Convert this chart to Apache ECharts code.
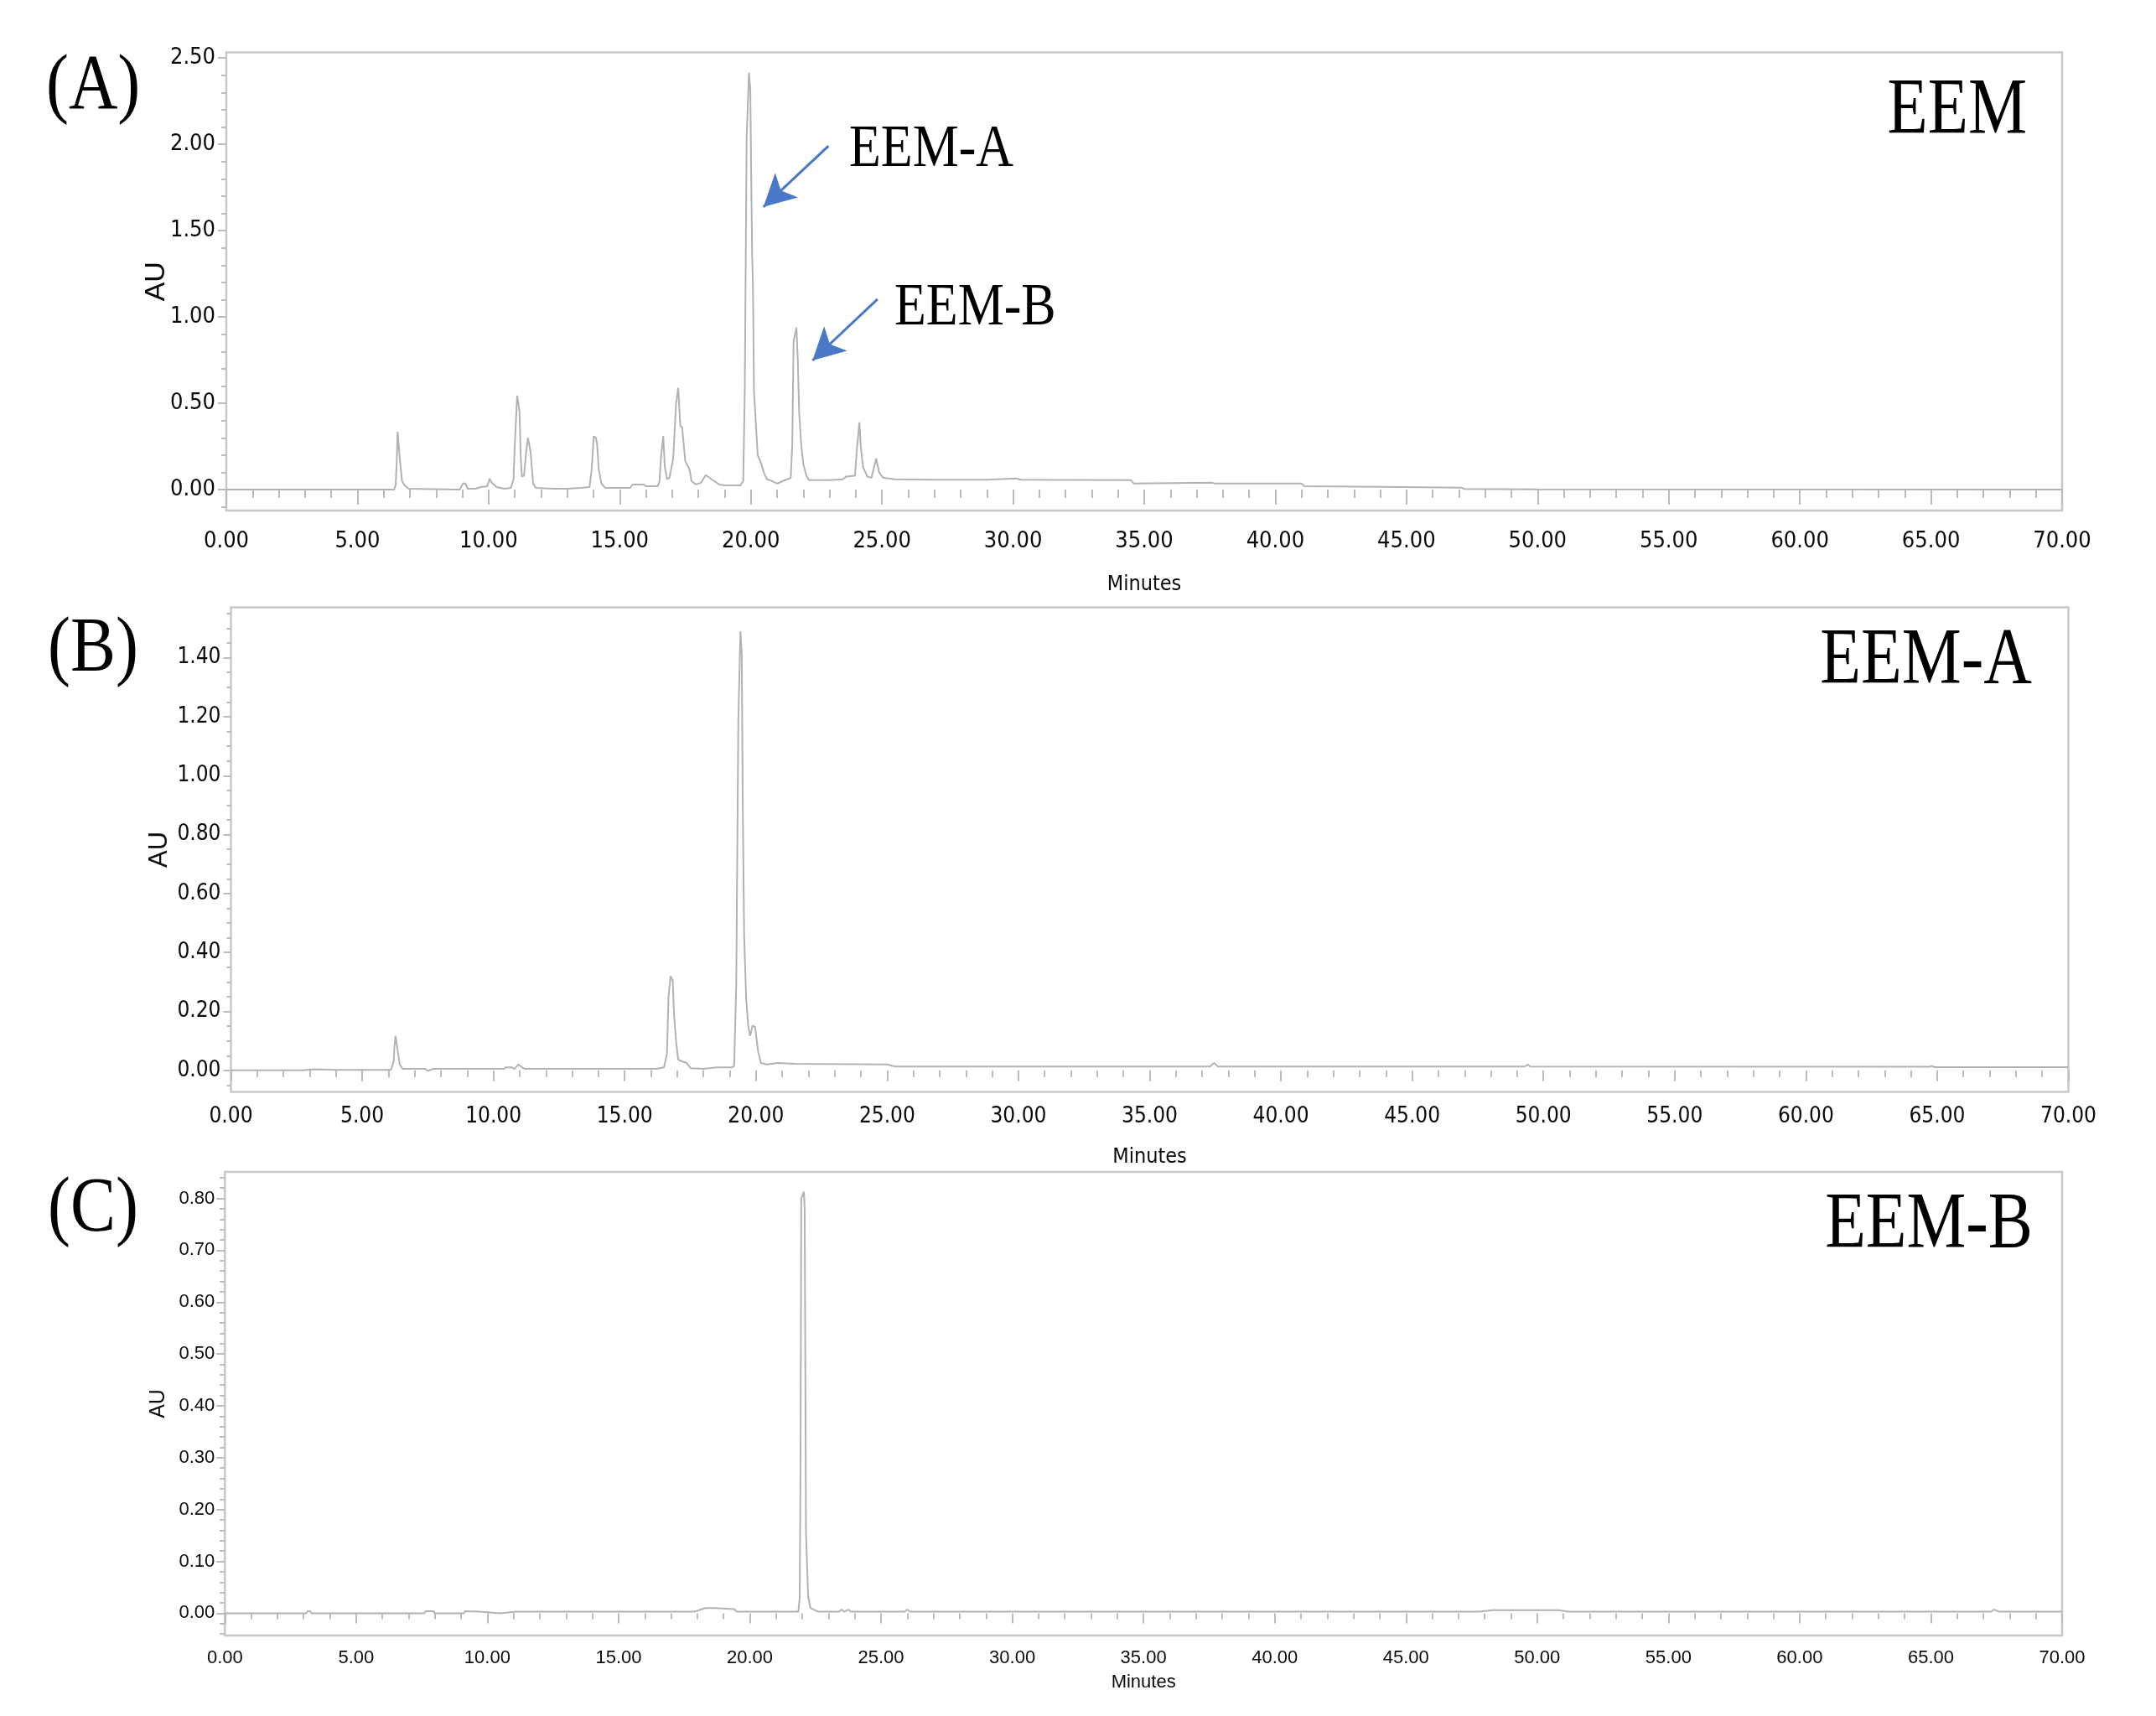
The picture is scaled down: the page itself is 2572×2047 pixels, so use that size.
<!DOCTYPE html>
<html>
<head>
<meta charset="utf-8">
<script src="https://cdn.jsdelivr.net/npm/echarts@6/dist/echarts.min.js"></script>
<style>
html, body { margin: 0; padding: 0; background: #fff; }
#chart { width: 2572px; height: 2047px; }
</style>
</head>
<body>
<div id="chart"></div>
<script>
// [minutes, AU]
var eemTrace = [
	[0, 0], [6.40, 0], [6.46, 0.03], [6.50, 0.17], [6.53, 0.335], [6.59, 0.33], [6.62, 0.17], [6.70, 0.05],
	[6.80, 0.025], [6.95, 0.005], [8.90, 0.0], [9.02, 0.035], [9.12, 0.035], [9.20, 0.005], [9.50, 0.005],
	[9.70, 0.015], [9.95, 0.02], [10.04, 0.065], [10.12, 0.04], [10.30, 0.015], [10.60, 0.005], [10.85, 0.01],
	[10.95, 0.06], [11.00, 0.26], [11.09, 0.545], [11.14, 0.545], [11.18, 0.45], [11.22, 0.21], [11.27, 0.076],
	[11.35, 0.08], [11.42, 0.20], [11.50, 0.30], [11.55, 0.30], [11.60, 0.22], [11.70, 0.035], [11.80, 0.01],
	[12.50, 0.005], [13.00, 0.005], [13.50, 0.01], [13.85, 0.015], [13.93, 0.116], [14.01, 0.31], [14.09, 0.30],
	[14.14, 0.26], [14.20, 0.12], [14.30, 0.035], [14.45, 0.01], [15.40, 0.01], [15.50, 0.03], [15.90, 0.03],
	[16.00, 0.02], [16.45, 0.02], [16.52, 0.05], [16.57, 0.18], [16.66, 0.31], [16.72, 0.13], [16.81, 0.06],
	[16.90, 0.07], [17.04, 0.18], [17.15, 0.50], [17.23, 0.59], [17.31, 0.37], [17.38, 0.36], [17.50, 0.165],
	[17.66, 0.117], [17.74, 0.05], [17.90, 0.03], [18.10, 0.04], [18.28, 0.084], [18.50, 0.06], [18.80, 0.03],
	[19.00, 0.025], [19.60, 0.025], [19.71, 0.05], [19.77, 0.585], [19.84, 2.04], [19.93, 2.414], [19.98, 2.317],
	[20.01, 1.88], [20.05, 1.36], [20.08, 1.184], [20.12, 0.57], [20.19, 0.39], [20.26, 0.20], [20.40, 0.15],
	[20.51, 0.092], [20.62, 0.06], [20.78, 0.052], [21.00, 0.035], [21.30, 0.055], [21.52, 0.068], [21.58, 0.26],
	[21.63, 0.86], [21.74, 0.94], [21.79, 0.75], [21.84, 0.456], [21.92, 0.26], [22.00, 0.15], [22.11, 0.084],
	[22.22, 0.055], [23.00, 0.055], [23.50, 0.06], [23.65, 0.076], [23.97, 0.08], [24.05, 0.245], [24.14, 0.39],
	[24.19, 0.25], [24.28, 0.13], [24.44, 0.076], [24.60, 0.068], [24.78, 0.18], [24.89, 0.10], [25.05, 0.068],
	[25.50, 0.06], [27.00, 0.058], [29.00, 0.057], [30.10, 0.065], [30.30, 0.057], [34.50, 0.055], [34.60, 0.035],
	[37.60, 0.04], [37.70, 0.035], [41.00, 0.035], [41.10, 0.02], [44.00, 0.016], [47.10, 0.011], [47.20, 0.004],
	[50.00, 0.002], [70.00, 0.0]
];

var eemATrace = [
	[0, 0], [2.70, 0], [2.75, 0.004], [3.20, 0.004], [3.25, 0], [4.00, 0.002], [6.10, 0.002], [6.20, 0.03],
	[6.23, 0.08], [6.27, 0.117], [6.32, 0.086], [6.37, 0.056], [6.43, 0.02], [6.54, 0.005], [7.40, 0.005],
	[7.50, -0.002], [7.70, 0.005], [10.40, 0.005], [10.47, 0.01], [10.70, 0.01], [10.80, 0.005], [10.95, 0.02],
	[11.10, 0.01], [11.20, 0.005], [16.20, 0.005], [16.50, 0.01], [16.61, 0.056], [16.67, 0.25], [16.75, 0.32],
	[16.83, 0.305], [16.88, 0.19], [16.96, 0.096], [17.04, 0.036], [17.20, 0.03], [17.36, 0.025], [17.52, 0.007],
	[18.00, 0.005], [18.50, 0.01], [19.10, 0.01], [19.17, 0.015], [19.25, 0.29], [19.33, 1.19], [19.41, 1.49],
	[19.46, 1.41], [19.50, 0.89], [19.55, 0.46], [19.63, 0.24], [19.71, 0.147], [19.78, 0.117], [19.87, 0.152],
	[19.97, 0.147], [20.08, 0.066], [20.19, 0.025], [20.40, 0.02], [20.83, 0.025], [21.50, 0.022], [25.00, 0.02],
	[25.30, 0.013], [37.30, 0.013], [37.45, 0.025], [37.60, 0.013], [49.30, 0.013], [49.40, 0.02], [49.50, 0.013],
	[64.70, 0.012], [64.80, 0.015], [64.90, 0.011], [70.00, 0.011]
];

var eemBTrace = [
	[0, 0], [3.10, 0], [3.15, 0.004], [3.25, 0.004], [3.30, 0], [4.30, 0], [4.35, 0.003], [4.40, 0],
	[7.60, 0], [7.65, 0.004], [7.95, 0.004], [8.00, 0], [9.10, 0], [9.15, 0.004], [9.70, 0.003], [9.75, 0],
	[10.50, 0], [10.55, 0.003], [11.10, 0.003], [11.15, 0], [17.90, 0.003], [18.30, 0.01], [18.70, 0.01],
	[19.40, 0.008], [19.50, 0.003], [21.85, 0.003], [21.90, 0.03], [21.93, 0.267], [21.96, 0.80], [22.06, 0.813],
	[22.09, 0.78], [22.11, 0.54], [22.14, 0.157], [22.22, 0.033], [22.31, 0.01], [22.60, 0.003], [23.40, 0.003],
	[23.50, 0.007], [23.60, 0.003], [23.75, 0.007], [23.85, 0.003], [25.90, 0.003], [26.00, 0.007], [26.10, 0.003],
	[47.80, 0.003], [48.30, 0.006], [50.80, 0.006], [51.20, 0.003], [67.30, 0.003], [67.40, 0.007], [67.60, 0.003],
	[70.00, 0.003]
];

// y tick labels of each panel
var eemYTicks = [0, 0.5, 1.0, 1.5, 2.0, 2.5];
var eemAYTicks = [0, 0.2, 0.4, 0.6, 0.8, 1.0, 1.2, 1.4];
var eemBYTicks = [0, 0.1, 0.2, 0.3, 0.4, 0.5, 0.6, 0.7, 0.8];

// arrows pointing at the two peaks in panel A: [tail, tip]
var arrowEemA = [[22.96, 1.99], [20.48, 1.637]];
var arrowEemB = [[24.83, 1.103], [22.35, 0.748]];

var NARROW = "'Liberation Sans Narrow', 'DejaVu Sans Condensed', sans-serif";
var SANS = "'Liberation Sans', Arial, sans-serif";
var SERIF = "'Liberation Serif', 'Times New Roman', serif";

var panels = [
	{ trace: eemTrace, ticks: eemYTicks, minorStep: 0.1, yMin: -0.121, yMax: 2.532,
	  left: 270, top: 62.5, width: 2190, height: 546.5,
	  labelFont: NARROW, labelSize: 27, xMargin: 23, yMargin: 13, xNameGap: 76, yNameGap: 66,
	  auSize: 34, minSize: 25, xMajor: 18, xMinor: 10, yMajor: 10, yMinor: 6 },
	{ trace: eemATrace, ticks: eemAYTicks, minorStep: 0.05, yMin: -0.073, yMax: 1.571,
	  left: 275.5, top: 724.5, width: 2192, height: 578,
	  labelFont: NARROW, labelSize: 26, xMargin: 17, yMargin: 12, xNameGap: 65, yNameGap: 70,
	  auSize: 31, minSize: 25, xMajor: 13, xMinor: 8, yMajor: 9, yMinor: 5 },
	{ trace: eemBTrace, ticks: eemBYTicks, minorStep: 0.02, yMin: -0.043, yMax: 0.851,
	  left: 268.3, top: 1398, width: 2191.7, height: 553,
	  labelFont: SANS, labelSize: 22, xMargin: 16, yMargin: 12, xNameGap: 45, yNameGap: 67,
	  auSize: 25, minSize: 22, xMajor: 12, xMinor: 7, yMajor: 10, yMinor: 6 }
];

function minorValues(p) {
	var out = [];
	var start = Math.ceil(p.yMin / p.minorStep);
	var end = Math.floor(p.yMax / p.minorStep);
	for (var k = start; k <= end; k++) {
		var v = Math.round(k * p.minorStep * 1e6) / 1e6;
		var isMajor = p.ticks.some(function (t) { return Math.abs(t - v) < 1e-6; });
		if (!isMajor) out.push(v);
	}
	return out;
}

var tickColor = '#bcbcbc';
var frameColor = '#c8c8c8';
var lineColor = '#b2b2b2';
var textColor = '#0a0a0a';

var grids = [], xAxes = [], yAxes = [], series = [];

panels.forEach(function (p, i) {
	grids.push({
		left: p.left, top: p.top, width: p.width, height: p.height,
		show: true, borderColor: frameColor, borderWidth: 2.5, backgroundColor: 'transparent'
	});
	xAxes.push({
		type: 'value', gridIndex: i, min: 0, max: 70, interval: 5,
		axisLine: { show: false },
		axisTick: { show: true, length: p.xMajor, lineStyle: { color: tickColor, width: 2 } },
		minorTick: { show: true, splitNumber: 5, length: p.xMinor, lineStyle: { color: tickColor, width: 2 } },
		splitLine: { show: false },
		axisLabel: {
			margin: p.xMargin, fontFamily: p.labelFont, fontSize: p.labelSize, color: textColor,
			formatter: function (v) { return v.toFixed(2); }
		},
		name: 'Minutes', nameLocation: 'middle', nameGap: p.xNameGap,
		nameTextStyle: { fontFamily: p.labelFont, fontSize: p.minSize, color: textColor }
	});
	yAxes.push({
		type: 'value', gridIndex: i, position: 'left', offset: 0, min: p.yMin, max: p.yMax,
		axisLine: { show: false },
		axisTick: { show: true, length: p.yMajor, customValues: p.ticks, lineStyle: { color: tickColor, width: 2 } },
		splitLine: { show: false },
		axisLabel: {
			customValues: p.ticks, margin: p.yMargin, fontFamily: p.labelFont, fontSize: p.labelSize, color: textColor,
			formatter: function (v) { return v.toFixed(2); }
		},
		name: 'AU', nameLocation: 'middle', nameGap: p.yNameGap, nameRotate: 90, nameMoveOverlap: false,
		nameTextStyle: { fontFamily: SANS, fontSize: p.auSize, color: textColor }
	});
	// second axis on the same side of the grid, only for the minor y ticks
	yAxes.push({
		type: 'value', gridIndex: i, position: 'left', offset: 0, min: p.yMin, max: p.yMax,
		axisLine: { show: false },
		axisTick: { show: true, length: p.yMinor, customValues: minorValues(p), lineStyle: { color: tickColor, width: 2 } },
		axisLabel: { show: false },
		splitLine: { show: false }
	});
	series.push({
		type: 'line', xAxisIndex: i, yAxisIndex: 2 * i, data: p.trace,
		showSymbol: false, symbol: 'none', silent: true,
		lineStyle: { color: lineColor, width: 2 }
	});
});

series[0].markLine = {
	silent: true, animation: false,
	symbol: ['none', 'arrow'], symbolSize: [30, 38],
	lineStyle: { color: '#4a78c9', width: 3, type: 'solid' },
	itemStyle: { color: '#4a78c9' },
	label: { show: false },
	emphasis: { disabled: true },
	data: [
		[{ coord: arrowEemA[0] }, { coord: arrowEemA[1] }],
		[{ coord: arrowEemB[0] }, { coord: arrowEemB[1] }]
	]
};

function label(text, x, y, size, align, sx) {
	return {
		type: 'text', x: x, y: y, scaleX: sx, originX: 0, originY: 0, silent: true,
		style: {
			text: text, x: 0, y: 0, fill: '#000',
			font: size + 'px ' + SERIF,
			textAlign: align, align: align, textVerticalAlign: 'middle', verticalAlign: 'middle'
		}
	};
}

var chart = echarts.init(document.getElementById('chart'));
chart.setOption({
	animation: false,
	backgroundColor: '#fff',
	textStyle: { fontFamily: SANS },
	grid: grids,
	xAxis: xAxes,
	yAxis: yAxes,
	series: series,
	graphic: [
		label('(A)', 55, 105, 93, 'left', 0.87),
		label('EEM', 2418, 134, 95, 'right', 0.83),
		label('EEM-A', 1013, 179, 72, 'left', 0.86),
		label('EEM-B', 1067, 368, 72, 'left', 0.86),
		label('(B)', 57, 776, 93, 'left', 0.87),
		label('EEM-A', 2424, 790, 95, 'right', 0.84),
		label('(C)', 57, 1444, 93, 'left', 0.87),
		label('EEM-B', 2425, 1463, 96, 'right', 0.83)
	]
});
</script>
</body>
</html>
